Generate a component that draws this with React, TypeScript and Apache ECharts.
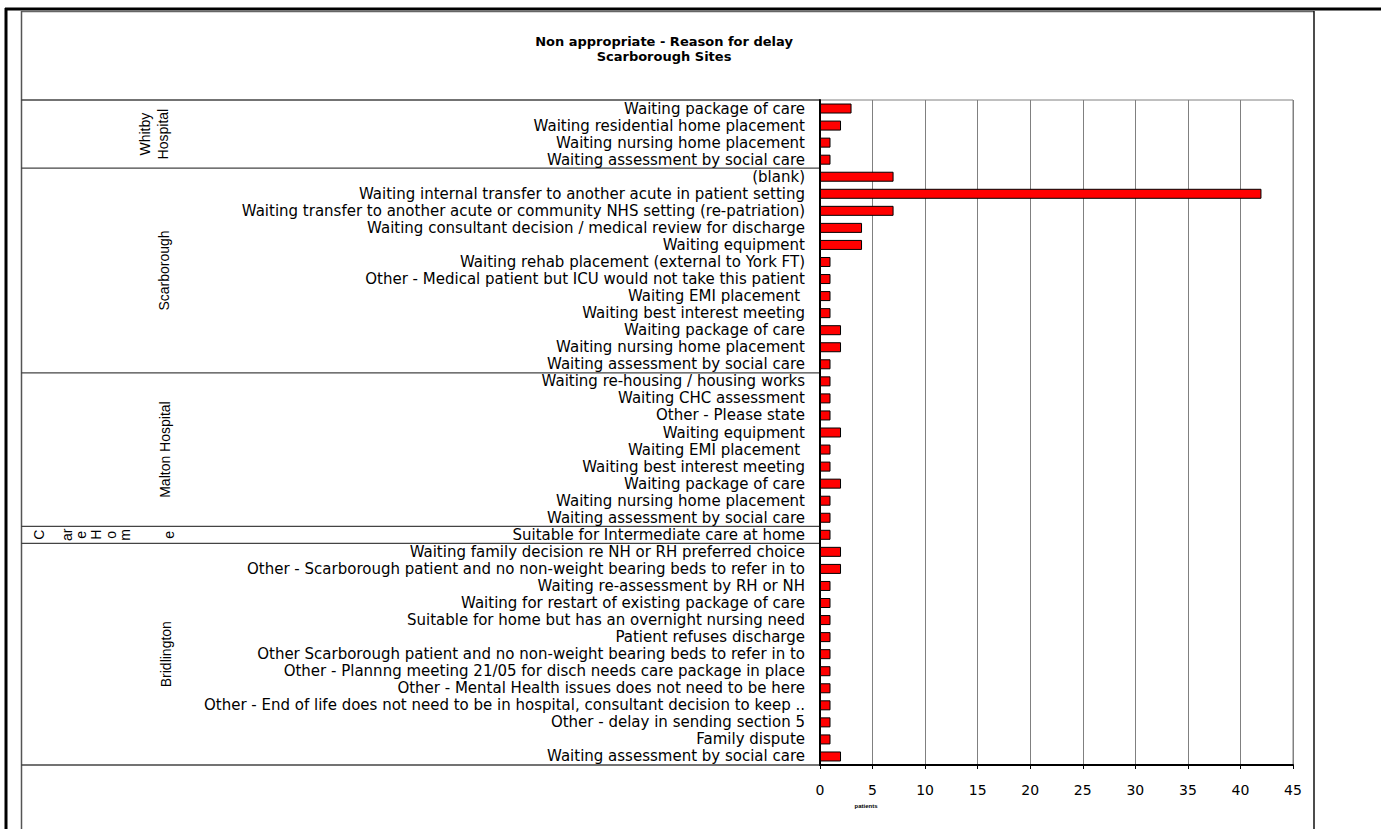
import React, { useEffect, useRef } from "react";
import * as echarts from "echarts";

const titleLines = ["Non appropriate - Reason for delay", "Scarborough Sites"];
const groups = ["Whitby\nHospital", "Scarborough", "Malton Hospital", "Care Home", "Bridlington"];
const groupSizes = [4, 12, 9, 1, 13];
const reasons = [
  "Waiting package of care",
  "Waiting residential home placement",
  "Waiting nursing home placement",
  "Waiting assessment by social care",
  "(blank)",
  "Waiting internal transfer to another acute in patient setting",
  "Waiting transfer to another acute or community NHS setting (re-patriation)",
  "Waiting consultant decision / medical review for discharge",
  "Waiting equipment",
  "Waiting rehab placement (external to York FT)",
  "Other - Medical patient but ICU would not take this patient",
  "Waiting EMI placement ",
  "Waiting best interest meeting",
  "Waiting package of care",
  "Waiting nursing home placement",
  "Waiting assessment by social care",
  "Waiting re-housing / housing works",
  "Waiting CHC assessment",
  "Other - Please state",
  "Waiting equipment",
  "Waiting EMI placement ",
  "Waiting best interest meeting",
  "Waiting package of care",
  "Waiting nursing home placement",
  "Waiting assessment by social care",
  "Suitable for Intermediate care at home",
  "Waiting family decision re NH or RH preferred choice",
  "Other - Scarborough patient and no non-weight bearing beds to refer in to",
  "Waiting re-assessment by RH or NH",
  "Waiting for restart of existing package of care",
  "Suitable for home but has an overnight nursing need",
  "Patient refuses discharge",
  "Other Scarborough patient and no non-weight bearing beds to refer in to",
  "Other - Plannng meeting 21/05 for disch needs care package in place",
  "Other - Mental Health issues does not need to be here",
  "Other - End of life does not need to be in hospital, consultant decision to keep ..",
  "Other - delay in sending section 5",
  "Family dispute",
  "Waiting assessment by social care",
];
const patients = [
  3, 2, 1, 1,
  7, 42, 7, 4, 4, 1, 1, 1, 1, 2, 2, 1,
  1, 1, 1, 2, 1, 1, 2, 1, 1,
  1,
  2, 2, 1, 1, 1, 1, 1, 1, 1, 1, 1, 1, 2,
];
const careHomePieces = ["C", "ar", "e", "H", "o", "m", "e"];
const careHomeX = [39, 67, 81, 96, 111, 125, 169];
const groupLabelX = [154, 164, 165, 0, 166];
const xTicksMax = 45;
const xInterval = 5;
const axisName = "patients";

const FONT = "'DejaVu Sans', 'Liberation Sans', Arial, sans-serif";
const FONT2 = "'Liberation Sans', Arial, sans-serif";

export default function App() {
  const ref = useRef<HTMLDivElement>(null);
  useEffect(() => {
    if (!ref.current) return;
    const chart = echarts.init(ref.current, null, { renderer: "svg" });
    const option: any = {
      animation: false,
      backgroundColor: "#fff",
      textStyle: { fontFamily: FONT },
      title: {
        text: titleLines.join("\n"),
        left: 659,
        top: 29,
        textAlign: "center",
        textStyle: { fontSize: 13, fontWeight: "bold", color: "#000", fontFamily: FONT, lineHeight: 15 },
      },
      grid: {
        left: 820,
        top: 100,
        width: 473,
        height: 665,
        show: true,
        borderColor: "#808080",
        borderWidth: 1,
        containLabel: false,
      },
      xAxis: {
        type: "value",
        min: 0,
        max: xTicksMax,
        interval: xInterval,
        axisLine: { show: true, lineStyle: { color: "#000", width: 2 } },
        axisTick: { show: true, length: 4, lineStyle: { color: "#000", width: 1 } },
        splitLine: { show: true, lineStyle: { color: "#808080", width: 1 } },
        axisLabel: { color: "#000", fontSize: 14, margin: 18, fontFamily: FONT },
      },
      yAxis: {
        type: "category",
        inverse: true,
        data: reasons,
        axisLine: { show: true, lineStyle: { color: "#000", width: 2 } },
        axisTick: { show: false },
        splitLine: { show: false },
        axisLabel: { color: "#000", fontSize: 15, margin: 15, fontFamily: FONT, interval: 0 },
      },
      series: [
        {
          type: "bar",
          data: patients,
          barWidth: 10,
          itemStyle: { color: "#FF0000", borderColor: "#000", borderWidth: 1 },
        },
      ],
    };
    chart.setOption(option);

    const yOf = (i: number) => chart.convertToPixel({ yAxisIndex: 0 }, i) as number;
    const band = Math.abs(yOf(1) - yOf(0));
    const graphics: any[] = [];
    graphics.push({ type: "line", shape: { x1: 5, y1: 9, x2: 1381, y2: 9 }, style: { stroke: "#000", lineWidth: 3 } });
    graphics.push({ type: "line", shape: { x1: 6, y1: 8, x2: 6, y2: 829 }, style: { stroke: "#000", lineWidth: 3 } });
    graphics.push({ type: "line", shape: { x1: 21, y1: 11.5, x2: 1314, y2: 11.5 }, style: { stroke: "#666", lineWidth: 1.5 } });
    graphics.push({ type: "line", shape: { x1: 21.5, y1: 11, x2: 21.5, y2: 829 }, style: { stroke: "#555", lineWidth: 1.5 } });
    graphics.push({ type: "line", shape: { x1: 1314, y1: 11, x2: 1314, y2: 829 }, style: { stroke: "#111", lineWidth: 1.5 } });

    let start = 0;
    const bounds: number[] = [];
    groupSizes.forEach((n) => {
      bounds.push(yOf(start) - band / 2);
      start += n;
    });
    bounds.push(yOf(start - 1) + band / 2);
    bounds.forEach((y) => {
      graphics.push({ type: "line", shape: { x1: 21, y1: y, x2: 820, y2: y }, style: { stroke: "#444", lineWidth: 1.3 } });
    });
    groups.forEach((g, gi) => {
      const cy = (bounds[gi] + bounds[gi + 1]) / 2;
      if (g === "Care Home") {
        careHomePieces.forEach((p, pi) => {
          graphics.push({
            type: "text",
            x: careHomeX[pi],
            y: cy,
            rotation: Math.PI / 2,
            style: { text: p, fontSize: 14, fontFamily: FONT2, fill: "#000", align: "center", verticalAlign: "middle" },
          });
        });
      } else {
        graphics.push({
          type: "text",
          x: groupLabelX[gi],
          y: cy,
          rotation: Math.PI / 2,
          style: { text: g, fontSize: 14, fontFamily: FONT2, fill: "#000", align: "center", verticalAlign: "middle", lineHeight: 18 },
        });
      }
    });
    graphics.push({
      type: "text",
      x: 866,
      y: 806,
      style: { text: axisName, fontSize: 6, fontWeight: "bold", fontFamily: FONT2, fill: "#000", align: "center", verticalAlign: "middle" },
    });
    chart.setOption({ graphic: graphics });
    return () => chart.dispose();
  }, []);
  return <div ref={ref} style={{ position: "absolute", left: 0, top: 0, width: 1381, height: 829 }} />;
}
